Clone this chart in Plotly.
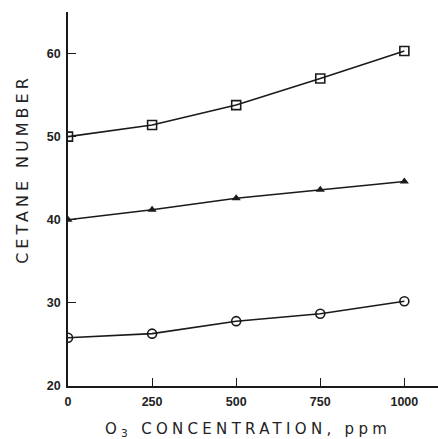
import plotly.graph_objects as go

x_vals = [0, 250, 500, 750, 1000]
squares = [50.0, 51.4, 53.8, 57.0, 60.3]
triangles = [40.0, 41.2, 42.6, 43.6, 44.6]
circles = [25.8, 26.3, 27.8, 28.7, 30.2]

x_ticks = [0, 250, 500, 750, 1000]
y_ticks = [20, 30, 40, 50, 60]

fig = go.Figure()
line = dict(color="#1a1a1a", width=1.6)
fig.add_trace(go.Scatter(x=x_vals, y=squares, mode="lines+markers", line=line,
                         marker=dict(symbol="square-open", size=9, color="#1a1a1a", line=dict(width=1.6)),
                         showlegend=False))
fig.add_trace(go.Scatter(x=x_vals, y=triangles, mode="lines+markers", line=line,
                         marker=dict(symbol="triangle-up", size=8, color="#1a1a1a"),
                         showlegend=False))
fig.add_trace(go.Scatter(x=x_vals, y=circles, mode="lines+markers", line=line,
                         marker=dict(symbol="circle-open", size=9, color="#1a1a1a", line=dict(width=1.6)),
                         showlegend=False))

tickfont = dict(family="Liberation Sans", size=12.5, color="#222", weight="bold")
fig.update_xaxes(range=[0, 1100], tickvals=x_ticks, ticktext=[str(v) for v in x_ticks],
                 showline=True, linecolor="#1a1a1a", linewidth=1.6, ticks="inside",
                 ticklen=8, tickwidth=1.4, tickcolor="#1a1a1a", showgrid=False, zeroline=False,
                 tickfont=tickfont, ticklabelstandoff=3)
fig.update_yaxes(range=[20, 65], tickvals=y_ticks, ticktext=[str(v) for v in y_ticks],
                 showline=True, linecolor="#1a1a1a", linewidth=1.6, ticks="inside",
                 ticklen=8, tickwidth=1.4, tickcolor="#1a1a1a", showgrid=False, zeroline=False,
                 tickfont=tickfont, ticklabelstandoff=3)

fig.add_annotation(text='<span style="letter-spacing:4px">CETANE NUMBER</span>',
                   xref="paper", yref="paper", x=-0.125, y=0.58, textangle=-90,
                   showarrow=False, font=dict(family="DejaVu Sans", size=16, color="#222"),
                   xanchor="center", yanchor="middle")
fig.add_annotation(text='<span style="letter-spacing:4.3px">O<sub>3</sub> CONCENTRATION, ppm</span>',
                   xref="paper", yref="paper", x=0.486, y=-0.115,
                   showarrow=False, font=dict(family="DejaVu Sans", size=15, color="#222"),
                   xanchor="center", yanchor="middle")

fig.update_layout(width=438, height=439, margin=dict(l=68, r=0, t=12, b=53),
                  plot_bgcolor="white", paper_bgcolor="white")
fig.write_html("out.html", config={"displayModeBar": False},
               post_script="document.body.style.margin='0';")
